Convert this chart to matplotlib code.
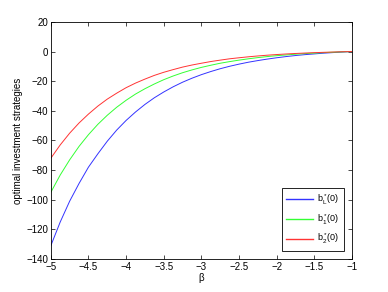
import matplotlib

matplotlib.use("Agg")
import matplotlib.pyplot as plt

# values, beta step 0.125
beta = [-5.0, -4.875, -4.75, -4.625, -4.5, -4.375, -4.25, -4.125,
        -4.0, -3.875, -3.75, -3.625, -3.5, -3.375, -3.25, -3.125,
        -3.0, -2.875, -2.75, -2.625, -2.5, -2.375, -2.25, -2.125,
        -2.0, -1.875, -1.75, -1.625, -1.5, -1.375, -1.25, -1.125, -1.0]
b_L = [-131, -115, -101, -89, -78, -69, -60.5, -53,
       -46.5, -40.8, -35.7, -31.2, -27.3, -23.8, -20.7, -18.0,
       -15.6, -13.5, -11.6, -9.95, -8.5, -7.2, -6.1, -5.1,
       -4.2, -3.4, -2.7, -2.1, -1.6, -1.1, -0.7, -0.33, 0.0]
b_1 = [-95, -83.3, -73.1, -64.0, -56.1, -49.1, -43.0, -37.6,
       -32.9, -28.7, -25.1, -21.9, -19.0, -16.5, -14.3, -12.4,
       -10.7, -9.25, -7.9, -6.8, -5.8, -4.9, -4.1, -3.4,
       -2.8, -2.3, -1.8, -1.4, -1.06, -0.74, -0.46, -0.22, 0.0]
b_2 = [-72, -63.0, -55.1, -48.2, -42.2, -36.8, -32.1, -28.1,
       -24.4, -21.3, -18.6, -16.1, -14.0, -12.2, -10.5, -9.1,
       -7.9, -6.75, -5.8, -4.9, -4.2, -3.55, -2.98, -2.47,
       -2.03, -1.65, -1.31, -1.02, -0.76, -0.53, -0.33, -0.15, 0.0]

plt.rcParams["font.family"] = ["Liberation Sans", "DejaVu Sans"]
plt.rcParams["font.size"] = 7
plt.rcParams["mathtext.fontset"] = "custom"
plt.rcParams["mathtext.rm"] = "Liberation Sans"
plt.rcParams["mathtext.it"] = "Liberation Sans"

fig = plt.figure(figsize=(3.88, 2.92), dpi=100)
ax = fig.add_axes([0.131, 0.113, 0.776, 0.812])
ax.plot(beta, b_L, color=(0.2, 0.2, 1), lw=0.7, label=r"$\mathrm{b}_L^*(0)$")
ax.plot(beta, b_1, color=(0.2, 1, 0.2), lw=0.7, label=r"$\mathrm{b}_1^*(0)$")
ax.plot(beta, b_2, color=(1, 0.2, 0.2), lw=0.7, label=r"$\mathrm{b}_2^*(0)$")

ax.set_xlim(-5, -1)
ax.set_ylim(-140, 20)
ax.set_xticks([-5, -4.5, -4, -3.5, -3, -2.5, -2, -1.5, -1])
ax.set_xticklabels(["\u22125", "\u22124.5", "\u22124", "\u22123.5", "\u22123",
                    "\u22122.5", "\u22122", "\u22121.5", "\u22121"])
ax.set_yticks(range(-140, 21, 20))
ax.tick_params(direction="in", top=True, right=True, length=3, width=0.5, pad=2)
for s in ax.spines.values():
    s.set_linewidth(0.6)
ax.set_xlabel("\u03b2", labelpad=1)
ax.set_ylabel("optimal investment strategies", labelpad=2)

leg = ax.legend(loc="lower right", fontsize=6.5, fancybox=False, framealpha=1,
                edgecolor="black", handlelength=3.0, borderaxespad=0.9,
                labelspacing=0.6, borderpad=0.5, handletextpad=0.4)
leg.get_frame().set_linewidth(0.6)
for h in leg.get_lines():
    h.set_linewidth(1.0)

fig.savefig("out.png", dpi=100)
